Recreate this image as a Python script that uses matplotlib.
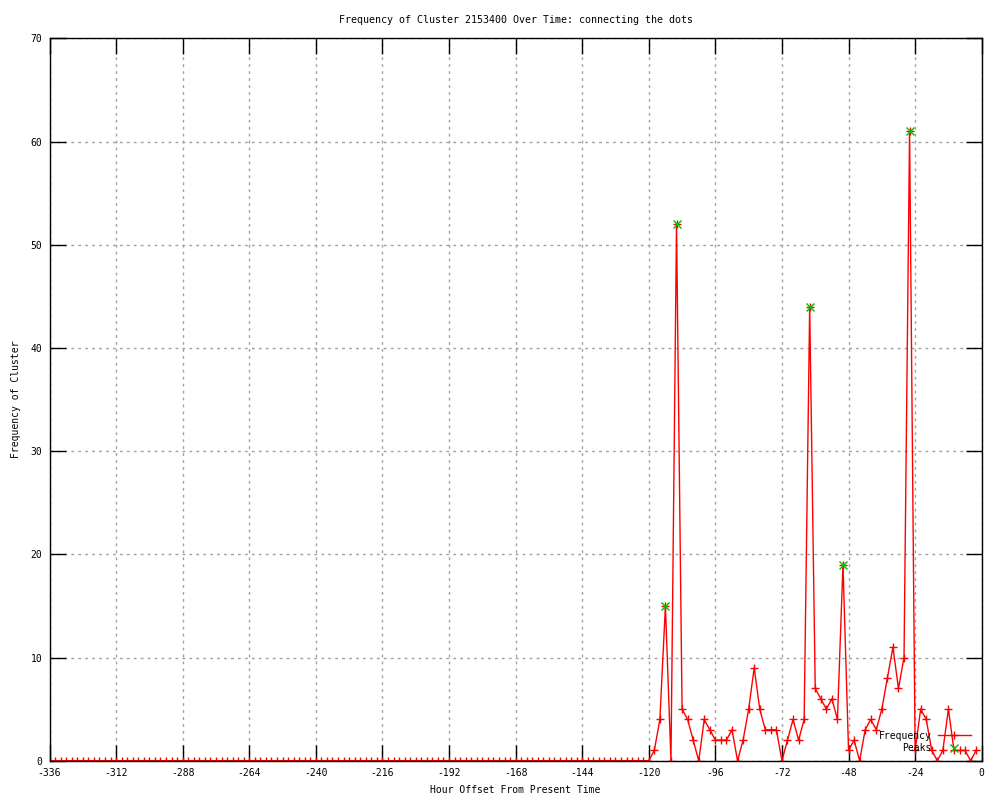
import numpy as np
import matplotlib
matplotlib.use('Agg')
import matplotlib.pyplot as plt
from matplotlib.lines import Line2D

# 字体: gnuplot 风格的等宽小字
plt.rcParams['font.family'] = ['DejaVu Sans Mono']
plt.rcParams['font.size'] = 7
plt.rcParams['axes.unicode_minus'] = False

# 数据: 每 2 小时一个点, -336 到 -2
hours = np.arange(-336, 0, 2)

# -118 到 -2 的频数 (之前全部为 0)
recent_counts = [1, 4, 15, 0, 52, 5, 4, 2, 0, 4, 3, 2, 2, 2, 3, 0, 2, 5, 9, 5,
                 3, 3, 3, 0, 2, 4, 2, 4, 44, 7, 6, 5, 6, 4, 19, 1, 2, 0, 3, 4,
                 3, 5, 8, 11, 7, 10, 61, 1, 5, 4, 1, 0, 1, 5, 1, 1, 1, 0, 1]
freq = [0] * (len(hours) - len(recent_counts)) + recent_counts

# 峰值
peak_hours = [-114, -110, -62, -50, -26]
peak_values = [15, 52, 44, 19, 61]

x_ticks = list(range(-336, 1, 24))
y_ticks = list(range(0, 71, 10))

fig = plt.figure(figsize=(10, 8), dpi=100)
ax = fig.add_axes([0.0495, 0.0491, 0.9322, 0.903])

# 网格
ax.grid(True, color='#a0a0a0', linestyle=(0, (2, 3)), linewidth=1)
ax.set_axisbelow(True)

# 频数折线
ax.plot(hours, freq, color='red', linewidth=1, marker='+', markersize=5.8,
        markeredgewidth=1, label='Frequency')
# 峰值标记
ax.plot(peak_hours, peak_values, linestyle='none', color='#00c000', marker='x',
        markersize=5.5, markeredgewidth=1, label='Peaks')

ax.set_xlim(-336, 0)
ax.set_ylim(0, 70)
ax.set_xticks(x_ticks)
ax.set_yticks(y_ticks)
ax.tick_params(direction='in', length=11.5, width=1, top=True, right=True, pad=5)
for s in ax.spines.values():
    s.set_linewidth(1)

ax.set_title('Frequency of Cluster 2153400 Over Time: connecting the dots', fontsize=7.2, pad=11)
ax.set_xlabel('Hour Offset From Present Time', labelpad=5)
ax.set_ylabel('Frequency of Cluster', labelpad=7)

# 图例 (右下角, 文字在前)
handles = [Line2D([], [], color='red', linewidth=1, marker='+', markersize=5.8),
           Line2D([], [], color='#00c000', linestyle='none', marker='x', markersize=5.5)]
ax.legend(handles, ['Frequency', 'Peaks'], loc='lower right', bbox_to_anchor=(0.988, 0.01),
          frameon=False, markerfirst=False, handlelength=3.3, handletextpad=0.7,
          labelspacing=0.3, borderpad=0, borderaxespad=0)

plt.savefig('out.png', dpi=100)
